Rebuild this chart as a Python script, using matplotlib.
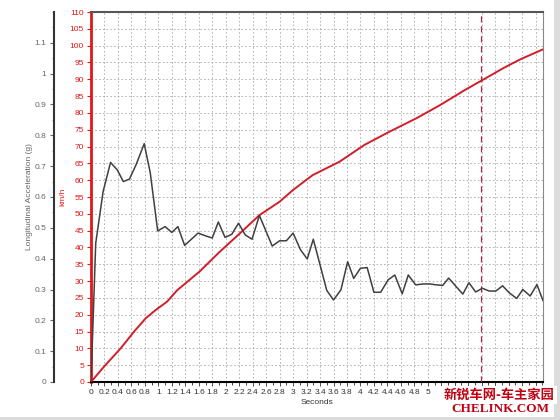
import matplotlib
matplotlib.use("Agg")
import matplotlib.pyplot as plt
from matplotlib.ticker import MultipleLocator, FuncFormatter
from matplotlib.patches import Rectangle

plt.rcParams['font.family'] = ['Liberation Sans', 'DejaVu Sans']

# 가속도 (g) 데이터
acc_t = [0.0, 0.07, 0.18, 0.29, 0.39, 0.48, 0.57, 0.67, 0.79, 0.88, 0.99,
         1.10, 1.20, 1.29, 1.39, 1.49, 1.59, 1.70, 1.80, 1.89, 1.99,
         2.09, 2.19, 2.29, 2.39, 2.50, 2.60, 2.69, 2.80, 2.90, 3.00,
         3.11, 3.21, 3.30, 3.40, 3.50, 3.60, 3.71, 3.81, 3.90, 4.00,
         4.10, 4.20, 4.30, 4.41, 4.51, 4.62, 4.71, 4.82, 4.93, 5.03,
         5.13, 5.22, 5.31, 5.41, 5.52, 5.61, 5.71, 5.81, 5.91, 6.01,
         6.11, 6.21, 6.32, 6.41, 6.52, 6.62, 6.71]
acc_g = [0.0, 0.45, 0.618, 0.712, 0.688, 0.65, 0.658, 0.705, 0.773, 0.678, 0.49,
         0.504, 0.485, 0.504, 0.443, 0.463, 0.483, 0.474, 0.467, 0.519, 0.469,
         0.479, 0.515, 0.477, 0.463, 0.54, 0.488, 0.441, 0.458, 0.458, 0.483,
         0.429, 0.399, 0.463, 0.380, 0.297, 0.266, 0.299, 0.390, 0.336, 0.369,
         0.371, 0.291, 0.291, 0.331, 0.347, 0.286, 0.347, 0.315, 0.318, 0.318,
         0.315, 0.313, 0.337, 0.312, 0.285, 0.322, 0.292, 0.304, 0.295, 0.295,
         0.312, 0.289, 0.271, 0.300, 0.279, 0.316, 0.264]

# 속도 (km/h) 데이터
spd_t = [0.0, 0.19, 0.44, 0.64, 0.81, 0.96, 1.13, 1.28, 1.46, 1.61, 1.90,
         2.20, 2.50, 2.80, 3.00, 3.29, 3.69, 4.06, 4.43, 4.83, 5.18,
         5.55, 5.77, 6.12, 6.37, 6.71]
spd_kmh = [0.0, 4.5, 10.0, 15.0, 18.9, 21.4, 23.9, 27.3, 30.3, 32.8, 38.5,
           44.0, 49.6, 53.6, 57.1, 61.5, 65.5, 70.5, 74.4, 78.4, 82.3,
           86.8, 89.3, 93.3, 95.9, 98.9]

marker_t = 5.79

fig = plt.figure(figsize=(5.6, 4.2), dpi=100)
ax = fig.add_axes([91/560, 1-382/420, 452/560, 370/420])
ax2 = ax.twinx()

# 그리드
ax.set_xlim(0, 6.71)
ax.set_ylim(0, 110)
ax.xaxis.set_major_locator(MultipleLocator(0.2))
ax.xaxis.set_minor_locator(MultipleLocator(0.1))
# 워터마크에 가려진 눈금 라벨은 비움
ax.xaxis.set_major_formatter(FuncFormatter(lambda v, p: '%g' % round(v, 1) if v < 5.1 else ''))
ax.yaxis.set_major_locator(MultipleLocator(5))
ax.grid(True, color='#aaaaaa', linestyle=(0, (2, 2.5)), linewidth=0.6)

ax.plot(spd_t, spd_kmh, color='#d01f2a', lw=1.4, zorder=5)
ax.axvline(marker_t, color='#a0304a', lw=0.9, ls=(0, (5, 3)), zorder=4)

ax.spines['left'].set_color('#e01818')
ax.spines['left'].set_linewidth(2)
ax.spines['top'].set_color('#555555')
ax.spines['top'].set_linewidth(1.5)
ax.spines['right'].set_color('#888888')
ax.spines['bottom'].set_color('black')
ax.spines['bottom'].set_linewidth(1.5)
ax.tick_params(axis='y', colors='#e01818', labelsize=6, length=3, width=0.8, pad=2)
ax.tick_params(axis='x', colors='#333333', labelsize=6, length=3, width=0.6, pad=2)
ax.tick_params(axis='x', which='minor', length=2, width=0.5)
ax.set_ylabel('km/h', color='#e01818', fontsize=6)
ax.yaxis.set_label_coords(-0.055, 0.5)
ax.set_xlabel('Seconds', color='#333333', fontsize=6, labelpad=2)

# 가속도 축 (왼쪽 바깥)
ax2.plot(acc_t, acc_g, color='#404040', lw=1.1, zorder=3)
ax2.set_ylim(0, 1.2)
ax2.yaxis.tick_left()
ax2.yaxis.set_label_position('left')
ax2.spines['left'].set_position(('outward', 27))
ax2.spines['left'].set_visible(True)
ax2.spines['left'].set_linewidth(1.5)
ax2.spines['left'].set_color('#333333')
for s in ['right', 'top', 'bottom']:
    ax2.spines[s].set_visible(False)
ax2.yaxis.set_minor_locator(MultipleLocator(0.05))
ax2.set_yticks([i / 10 for i in range(12)])
ax2.set_yticklabels(['%g' % (i / 10) for i in range(12)])
ax2.tick_params(axis='y', colors='#666666', labelsize=6, length=3, width=0.8, pad=2)
ax2.tick_params(axis='y', which='minor', length=1.5, width=0.5, color='#666666')
ax2.set_ylabel('Longitudinal Acceleration (g)', color='#666666', fontsize=6)
ax2.yaxis.set_label_coords(-0.128, 0.5)

# 워터마크
fig.text(499/560, 1-395/420, '新锐车网-车主家园', fontsize=9.5, fontweight='bold',
         color='#c00010', ha='center', va='center',
         family=['Noto Sans CJK SC', 'DejaVu Sans'],
         bbox=dict(facecolor='white', edgecolor='none', pad=1.5))
fig.text(500/560, 1-409/420, 'CHELINK.COM', fontsize=9.5, fontweight='bold',
         color='#c00010', ha='center', va='center', family='Liberation Serif')

# 테두리
fig.patches.append(Rectangle((554/560, 0), 6/560, 1, transform=fig.transFigure,
                             facecolor='#dcdcdc', edgecolor='none'))
fig.patches.append(Rectangle((0, 0), 1, 3/420, transform=fig.transFigure,
                             facecolor='#dcdcdc', edgecolor='none'))

fig.savefig('out.png', dpi=100)
